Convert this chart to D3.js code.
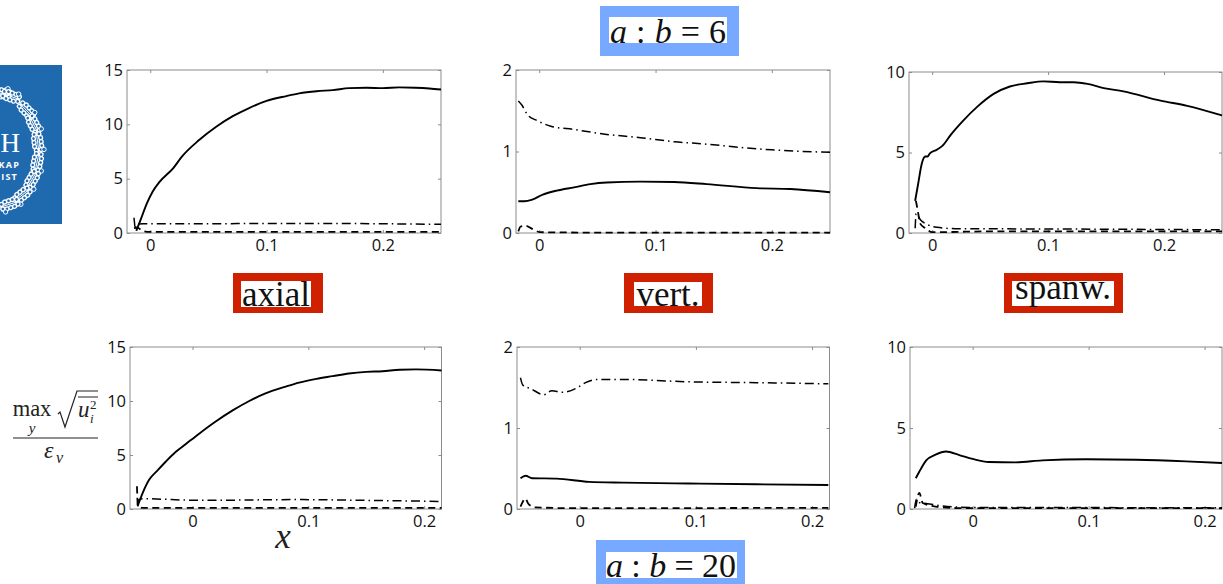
<!DOCTYPE html>
<html><head><meta charset="utf-8">
<script src="https://cdn.jsdelivr.net/npm/d3@7/dist/d3.min.js"></script>
<style>html,body{margin:0;padding:0;background:#fff;overflow:hidden}svg{display:block}</style>
</head><body><svg id="c" width="1223" height="584"></svg>
<script>
// ---- data ----
const xTicks=[0,0.1,0.2];
const xTickLabels=["0","0.1","0.2"];
const yTicksAxial=[0,5,10,15], yTicksVert=[0,1,2], yTicksSpan=[0,5,10];

const axial6SolidX=[-0.012,-0.008,-0.003,0.002,0.008,0.02,0.027,0.042,0.057,0.071,0.085,0.1,0.117,0.128,0.143,0.157,0.171,0.186,0.2,0.214,0.228,0.24,0.25];
const axial6SolidY=[0.2,1.3,2.7,3.8,4.7,6.0,7.0,8.55,9.8,10.75,11.5,12.15,12.6,12.85,13.05,13.15,13.33,13.37,13.33,13.4,13.37,13.3,13.2];
const axial6DotX=[-0.014,-0.0135,-0.013,-0.012,-0.006,0.05,0.1,0.15,0.2,0.25];
const axial6DotY=[1.4,0.9,0.35,0.8,0.85,0.85,0.88,0.88,0.85,0.8];
const axial6DashX=[-0.014,-0.011,-0.007,0,0.1,0.25];
const axial6DashY=[0.45,0.5,0.2,0.1,0.1,0.1];

const vert6SolidX=[-0.018,-0.013,-0.006,0.003,0.015,0.03,0.044,0.058,0.087,0.116,0.144,0.187,0.216,0.25];
const vert6SolidY=[0.39,0.39,0.41,0.47,0.52,0.56,0.60,0.62,0.63,0.625,0.60,0.55,0.54,0.50];
const vert6DotX=[-0.018,-0.015,-0.01,-0.002,0.01,0.03,0.058,0.087,0.116,0.144,0.173,0.2,0.25];
const vert6DotY=[1.62,1.57,1.45,1.38,1.31,1.27,1.21,1.17,1.12,1.09,1.05,1.02,0.99];
const vert6DashX=[-0.018,-0.016,-0.012,-0.006,0.001,0.05,0.25];
const vert6DashY=[0.02,0.08,0.09,0.05,0.01,0.005,0.005];

const span6SolidX=[-0.0147,-0.012,-0.009,-0.006,-0.004,-0.002,0.004,0.009,0.016,0.027,0.039,0.053,0.067,0.082,0.096,0.11,0.122,0.134,0.148,0.165,0.197,0.22,0.25];
const span6SolidY=[2.0,3.1,4.3,4.75,4.75,4.95,5.17,5.43,6.1,7.0,7.85,8.64,9.1,9.3,9.42,9.36,9.36,9.26,9.0,8.8,8.22,7.9,7.3];
const span6DotX=[-0.0147,-0.0138,-0.01,-0.005,0.004,0.02,0.1,0.25];
const span6DotY=[0.3,1.2,0.8,0.55,0.35,0.27,0.25,0.2];
const span6DashX=[-0.014,-0.012,-0.0105,-0.006,0,0.05,0.25];
const span6DashY=[2.0,1.2,0.6,0.3,0.05,0.1,0.1];

const axial20SolidX=[-0.0475,-0.043,-0.0375,-0.03,-0.023,-0.0144,-0.006,0.006,0.02,0.035,0.049,0.063,0.081,0.092,0.107,0.121,0.135,0.15,0.164,0.179,0.193,0.215];
const axial20SolidY=[0.25,1.5,2.7,3.6,4.4,5.3,6.0,7.0,8.1,9.15,10.0,10.7,11.35,11.7,12.05,12.3,12.55,12.7,12.75,12.9,12.93,12.83];
const axial20DotX=[-0.0475,-0.0465,-0.043,0.006,0.092,0.15,0.215];
const axial20DotY=[0.4,0.85,0.95,0.8,0.87,0.8,0.7];
const axial20DashX=[-0.048,-0.0477,-0.0473,-0.043,0.05,0.215];
const axial20DashY=[2.1,1.2,0.3,0.1,0.1,0.1];

const vert20SolidX=[-0.051,-0.0466,-0.041,-0.02,0.008,0.037,0.094,0.152,0.214];
const vert20SolidY=[0.38,0.41,0.38,0.375,0.335,0.325,0.315,0.305,0.297];
const vert20DotX=[-0.051,-0.049,-0.042,-0.031,-0.024,-0.015,-0.003,0.005,0.015,0.037,0.094,0.152,0.214];
const vert20DotY=[1.62,1.53,1.485,1.41,1.46,1.44,1.49,1.56,1.6,1.6,1.57,1.56,1.545];
const vert20DashX=[-0.051,-0.049,-0.047,-0.044,-0.038,-0.006,0.214];
const vert20DashY=[0.03,0.09,0.13,0.06,0.02,0.01,0.015];

const span20SolidX=[-0.049,-0.046,-0.04,-0.032,-0.023,-0.0115,0,0.014,0.037,0.06,0.098,0.141,0.184,0.215];
const span20SolidY=[1.9,2.3,3.0,3.35,3.55,3.33,3.09,2.9,2.88,3.0,3.07,3.04,2.94,2.84];
const span20DotX=[-0.05,-0.0485,-0.046,-0.039,-0.027,-0.003,0.215];
const span20DotY=[0.06,0.6,0.4,0.33,0.2,0.1,0.08];
const span20DashX=[-0.049,-0.046,-0.043,-0.032,-0.014,0.215];
const span20DashY=[0.15,1.0,0.37,0.15,0.06,0.05];

const panels=[
 {box:[127,441,70,233],xd:[-0.02,0.25],yd:[0,15],yt:yTicksAxial,s:[axial6SolidX,axial6SolidY],d:[axial6DotX,axial6DotY],h:[axial6DashX,axial6DashY]},
 {box:[516,830,70,233],xd:[-0.02,0.25],yd:[0,2],yt:yTicksVert,s:[vert6SolidX,vert6SolidY],d:[vert6DotX,vert6DotY],h:[vert6DashX,vert6DashY]},
 {box:[909,1222,72,233],xd:[-0.02,0.25],yd:[0,10],yt:yTicksSpan,s:[span6SolidX,span6SolidY],d:[span6DotX,span6DotY],h:[span6DashX,span6DashY]},
 {box:[130,441.5,347,509],xd:[-0.054,0.215],yd:[0,15],yt:yTicksAxial,s:[axial20SolidX,axial20SolidY],d:[axial20DotX,axial20DotY],h:[axial20DashX,axial20DashY]},
 {box:[517,829.5,347,509],xd:[-0.054,0.215],yd:[0,2],yt:yTicksVert,s:[vert20SolidX,vert20SolidY],d:[vert20DotX,vert20DotY],h:[vert20DashX,vert20DashY]},
 {box:[910,1222,347,509],xd:[-0.054,0.215],yd:[0,10],yt:yTicksSpan,s:[span20SolidX,span20SolidY],d:[span20DotX,span20DotY],h:[span20DashX,span20DashY]}
];

const svg=d3.select("#c");
const SANS="'Open Sans','Noto Sans',sans-serif", SERIF="'Liberation Serif',serif";
const GREY="#8c8c8c", LOGO="#1f69ae";

// ---- logo ----
const logo=svg.append("g");
logo.append("rect").attr("x",0).attr("y",65).attr("width",62).attr("height",159).attr("fill",LOGO);
const leafAngles=[-84,-70,-44,-27,-8,12,31,52,72];
const lobeOffsets=[-8,-4,0,4,8];
leafAngles.forEach(a=>{
  const t=a*Math.PI/180, cx=-3+41*Math.cos(t), cy=150+57*Math.sin(t);
  const leaf=logo.append("g").attr("transform",`translate(${cx},${cy}) rotate(${a+90})`);
  lobeOffsets.forEach(o=>{
    const sp=Math.abs(o)>4?2.4:3.6;
    [-sp,sp].forEach(s=>leaf.append("circle").attr("cx",o).attr("cy",s).attr("r",2.6).attr("fill","#fff"));
  });
  lobeOffsets.forEach(o=>{
    const sp=Math.abs(o)>4?2.4:3.6;
    [-sp,sp].forEach(s=>leaf.append("circle").attr("cx",o).attr("cy",s).attr("r",1.3).attr("fill",LOGO));
  });
  leaf.append("line").attr("x1",-10).attr("x2",10).attr("stroke","#fff").attr("stroke-width",0.9);
  const ab=6;
  logo.append("circle").attr("cx",-3+(41+ab)*Math.cos(t+0.13)).attr("cy",150+(57+ab)*Math.sin(t+0.13)).attr("r",2.2)
      .attr("fill",LOGO).attr("stroke","#fff").attr("stroke-width",1);
});
logo.append("text").attr("x",20).attr("y",152).attr("text-anchor","end").attr("font-family",SERIF).attr("font-size",27).attr("fill","#fff").text("H");
logo.append("text").attr("x",20).attr("y",168).attr("text-anchor","end").attr("font-family",SANS).attr("font-weight",700).attr("letter-spacing",1.2).attr("font-size",9).attr("fill","#fff").text("KAP");
logo.append("text").attr("x",18).attr("y",180).attr("text-anchor","end").attr("font-family",SANS).attr("font-weight",700).attr("letter-spacing",1.2).attr("font-size",9).attr("fill","#fff").text("IST");

// ---- panels ----
panels.forEach(p=>{
  const [l,r,t,b]=p.box;
  const x=d3.scaleLinear().domain(p.xd).range([l,r]);
  const y=d3.scaleLinear().domain(p.yd).range([b,t]);
  const g=svg.append("g");
  const styleAxis=(ax)=>{ax.select(".domain").remove();ax.selectAll("line").attr("stroke",GREY).attr("stroke-width",1);
    ax.selectAll("text").attr("font-family",SANS).attr("font-size",16.5).attr("fill","#111");};
  const bottom=g.append("g").attr("transform",`translate(0,${b})`)
    .call(d3.axisBottom(x).tickValues(xTicks).tickFormat((d,i)=>xTickLabels[i]).tickSizeInner(-3).tickPadding(6));
  styleAxis(bottom);
  const left=g.append("g").attr("transform",`translate(${l},0)`)
    .call(d3.axisLeft(y).tickValues(p.yt).tickFormat(d3.format("d")).tickSizeInner(-3).tickPadding(4));
  styleAxis(left);
  g.append("g").attr("transform",`translate(0,${t})`).call(d3.axisTop(x).tickValues(xTicks).tickFormat("").tickSizeInner(-3)).call(styleAxis);
  g.append("g").attr("transform",`translate(${r},0)`).call(d3.axisRight(y).tickValues(p.yt).tickFormat("").tickSizeInner(-3)).call(styleAxis);
  g.append("rect").attr("x",l).attr("y",t).attr("width",r-l).attr("height",b-t).attr("fill","none").attr("stroke",GREY).attr("stroke-width",1);
  const line=d3.line().x(d=>x(d[0])).y(d=>y(d[1])).curve(d3.curveMonotoneX);
  const draw=(pair,w,dash)=>g.append("path").datum(d3.zip(pair[0],pair[1])).attr("d",line)
     .attr("fill","none").attr("stroke","#000").attr("stroke-width",w).attr("stroke-dasharray",dash);
  draw(p.h,1.8,"7 4.5");
  draw(p.d,1.5,"9 4 1.5 4");
  draw(p.s,1.9,null);
});

// ---- boxed labels ----
function boxed(o,i,txt,cx,base,size,len){
  svg.append("rect").attr("x",o[0]).attr("y",o[1]).attr("width",o[2]-o[0]).attr("height",o[3]-o[1]).attr("fill",txt.fill);
  svg.append("rect").attr("x",i[0]).attr("y",i[1]).attr("width",i[2]-i[0]).attr("height",i[3]-i[1]).attr("fill","#fff");
  const t=svg.append("text").attr("x",cx).attr("y",base).attr("text-anchor","middle").attr("font-family",SERIF).attr("font-size",size).attr("fill","#111");
  if(len) t.attr("textLength",len).attr("lengthAdjust","spacing");
  txt.parts.forEach(q=>t.append("tspan").attr("font-style",q[1]?"italic":"normal").text(q[0]));
}
const BLUE="#76a9ff", RED="#cf2000";
const ratio=n=>({fill:BLUE,parts:[["a",1],[" : ",0],["b",1],[" = ",0],[n,0]]});
boxed([600,6,739,56],[609,17,727,43],ratio("6"),668,43,34,116);
boxed([596,540,745,584],[606,552,737,578],ratio("20"),671,577,34,130);
boxed([233,273,323,313],[241,281,311,307],{fill:RED,parts:[["axial",0]]},276,306,35);
boxed([624,273,713,313],[634,282,702,306],{fill:RED,parts:[["vert.",0]]},668,306,35);
boxed([1004,273,1123,313],[1012,281,1114,306],{fill:RED,parts:[["spanw.",0]]},1063,299,35);

// ---- axis labels ----
const mt=(s,x,y,size,it,anchor)=>svg.append("text").attr("x",x).attr("y",y).attr("font-family",SERIF).attr("font-size",size).attr("font-style",it?"italic":"normal").attr("text-anchor",anchor||"start").attr("fill","#222").text(s);
mt("x",283,548,35,true,"middle");
mt("max",32,416,22.5,false,"middle");
mt("y",32,433,15,true,"middle");
svg.append("path").attr("d","M58 414 L60 412 L65 427 L77 391 L98 391").attr("fill","none").attr("stroke","#222").attr("stroke-width",1.2);
svg.append("line").attr("x1",78).attr("x2",98).attr("y1",397).attr("y2",397).attr("stroke","#222");
mt("u",78,417,23,true);
mt("2",90,409,13,false);
mt("i",90,423,13,true);
svg.append("line").attr("x1",13).attr("x2",98).attr("y1",438).attr("y2",438).attr("stroke","#222").attr("stroke-width",1.2);
mt("\u03b5",44,458,24,true);
mt("v",56,463,16,true);
</script></body></html>
